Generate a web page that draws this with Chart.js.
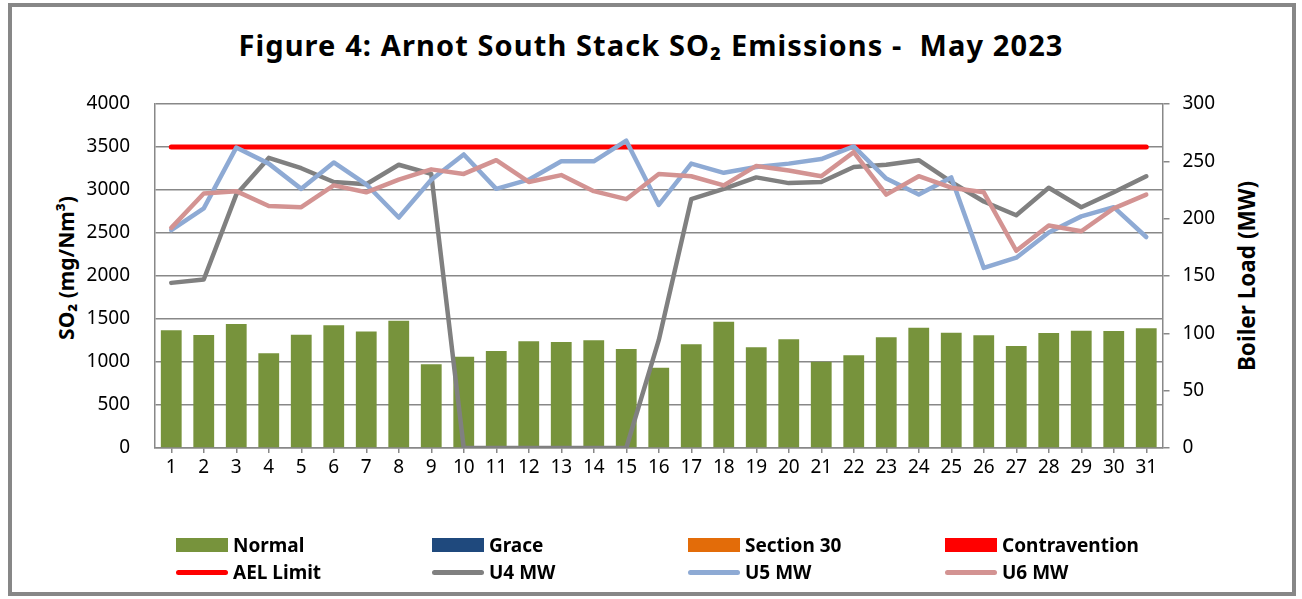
<!DOCTYPE html>
<html>
<head>
<meta charset="utf-8">
<script src="https://cdn.jsdelivr.net/npm/chart.js@4.4.0/dist/chart.umd.min.js"></script>
<style>
  html, body { margin: 0; padding: 0; background: #fff; }
  body { width: 1302px; height: 599px; position: relative; overflow: hidden; font-family: "Noto Sans", "Open Sans", sans-serif; }
  #frame { position: absolute; left: 8px; top: 3px; width: 1288px; height: 593px; box-sizing: border-box; border: 4px solid #878787; }
  #title { position: absolute; left: 0; width: 1302px; top: 25px; text-align: center; font-weight: bold; font-size: 29px; letter-spacing: 1.1px; color: #000; white-space: pre; }
  .ytitle { position: absolute; font-weight: bold; color: #000; white-space: nowrap; transform: translate(-50%, -50%) rotate(-90deg); }
  #wrap { position: absolute; left: 20px; top: 90px; width: 1250px; height: 400px; }
  #legend { position: absolute; left: 0; top: 0; width: 1302px; height: 599px; pointer-events: none; }
  .item { position: absolute; display: flex; align-items: center; font-weight: bold; font-size: 19px; color: #000; height: 24px; }
  .swatch { width: 52px; height: 14px; margin-right: 5px; }
  .lineswatch { width: 52px; height: 5px; border-radius: 3px; margin-right: 5px; }
</style>
</head>
<body>
<div id="frame"></div>
<div id="title">Figure 4: Arnot South Stack SO₂ Emissions -  May 2023</div>
<div class="ytitle" style="left:66px; top:268px; font-size:21px;">SO₂ (mg/Nm³)</div>
<div class="ytitle" style="left:1246px; top:276px; font-size:22.5px;">Boiler Load (MW)</div>
<div id="wrap"><canvas id="chart"></canvas></div>
<div id="legend"></div>

<script>
// dag van die maand
const days = Array.from({ length: 31 }, (_, i) => String(i + 1));

// SO2 (mg/Nm3) - net "Normal" kolomme, geen grace / s30 / oortreding
const normal = [1368, 1314, 1442, 1101, 1318, 1426, 1356, 1481, 973, 1062,
  1128, 1240, 1233, 1252, 1151, 934, 1206, 1469, 1171, 1264,
  1004, 1078, 1287, 1399, 1341, 1310, 1186, 1337, 1364, 1360, 1392];
const grace = [];
const section30 = [];
const contravention = [];
const aelLimit = days.map(() => 3500);

// ketellading (MW)
const u4 = [144, 147, 221, 253, 244, 232, 230, 247, 239, 0,
  0, 0, 0, 0, 0, 94, 217, 226, 236, 231,
  232, 245, 247, 251, 232, 215, 203, 227, 210, 223, 237];
const u5 = [190, 209, 262, 248, 226, 249, 230, 201, 234, 256,
  226, 234, 250, 250, 268, 212, 248, 240, 245, 248,
  252, 263, 235, 221, 236, 157, 166, 188, 202, 210, 184];
const u6 = [192, 222, 224, 211, 210, 229, 223, 234, 243, 239,
  251, 232, 238, 224, 217, 239, 237, 229, 246, 242,
  237, 258, 221, 237, 227, 223, 172, 194, 189, 209, 221];

const leftTicks = { min: 0, max: 4000, step: 500 };
const rightTicks = { min: 0, max: 300, step: 50 };

const GRID = "#888888";
const TICK_FONT = { family: "'Noto Sans', sans-serif", size: 19 };

const barSet = (label, data, color) => ({
  type: "bar", label, data, backgroundColor: color, yAxisID: "y",
  grouped: false, categoryPercentage: 1, barPercentage: 0.64, order: 5,
});
const lineSet = (label, data, color, axis, width, order) => ({
  type: "line", label, data, borderColor: color, backgroundColor: color, yAxisID: axis,
  borderWidth: width, pointRadius: 0, tension: 0, borderCapStyle: "round",
  borderJoinStyle: "round", order,
});

const datasets = [
  barSet("Normal", normal, "#77933c"),
  barSet("Grace", grace, "#1f497d"),
  barSet("Section 30", section30, "#e36c09"),
  barSet("Contravention", contravention, "#ff0000"),
  lineSet("AEL Limit", aelLimit, "#ff0000", "y", 5, 4),
  lineSet("U4 MW", u4, "#808080", "y1", 4.5, 3),
  lineSet("U5 MW", u5, "#8eaad4", "y1", 4.5, 2),
  lineSet("U6 MW", u6, "#d39392", "y1", 4.5, 1),
];

// vaste as-wydtes sodat die plotarea presies val
const fixWidth = (w) => (s) => { s.width = w; s.paddingTop = 0; s.paddingBottom = 0; };

const chart = new Chart(document.getElementById("chart"), {
  data: { labels: days, datasets },
  options: {
    responsive: true,
    maintainAspectRatio: false,
    animation: false,
    layout: { padding: { top: 14, left: 0, right: 0, bottom: 0 } },
    plugins: { legend: { display: false }, tooltip: { enabled: false } },
    scales: {
      x: {
        offset: true,
        grid: { display: true, drawOnChartArea: false, drawTicks: true, tickLength: 5, offset: false, color: GRID, lineWidth: 1.5 },
        border: { display: true, color: GRID, width: 1.5 },
        ticks: { color: "#000", font: TICK_FONT, padding: 3, maxRotation: 0, autoSkip: false },
        afterFit: (s) => { s.height = 42; },
      },
      y: {
        position: "left",
        min: leftTicks.min, max: leftTicks.max,
        grid: { color: GRID, lineWidth: 1.5, drawTicks: false },
        border: { display: true, color: GRID, width: 1.5 },
        ticks: { stepSize: leftTicks.step, color: "#000", font: TICK_FONT, padding: 25, callback: (v) => String(v) },
        afterFit: fixWidth(135),
      },
      y1: {
        position: "right",
        min: rightTicks.min, max: rightTicks.max,
        grid: { drawOnChartArea: false, drawTicks: true, tickLength: 7, color: GRID, lineWidth: 1.5 },
        border: { display: true, color: GRID, width: 1.5 },
        ticks: { stepSize: rightTicks.step, color: "#000", font: TICK_FONT, padding: 13, callback: (v) => String(v) },
        afterFit: fixWidth(107.5),
      },
    },
  },
});

// legende in 4 kolomme, 2 rye (soos Excel)
const colX = [176, 432, 688, 945];
const rowY = [533, 560];
const legend = document.getElementById("legend");
chart.data.datasets.forEach((ds, i) => {
  const el = document.createElement("div");
  el.className = "item";
  el.style.left = colX[i % 4] + "px";
  el.style.top = rowY[Math.floor(i / 4)] + "px";
  const sw = document.createElement("span");
  sw.className = ds.type === "bar" ? "swatch" : "lineswatch";
  sw.style.background = ds.type === "bar" ? ds.backgroundColor : ds.borderColor;
  el.appendChild(sw);
  el.appendChild(document.createTextNode(ds.label));
  legend.appendChild(el);
});
</script>
</body>
</html>
